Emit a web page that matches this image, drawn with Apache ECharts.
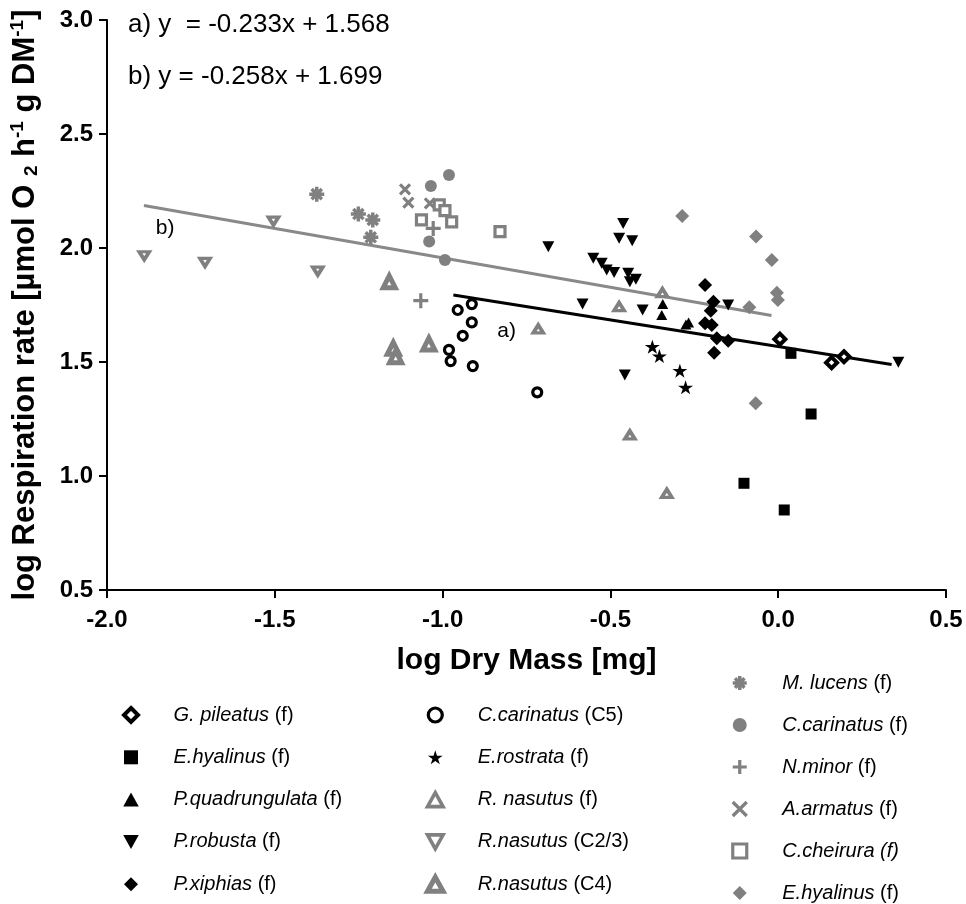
<!DOCTYPE html>
<html>
<head>
<meta charset="utf-8">
<script src="https://cdn.jsdelivr.net/npm/echarts@6/dist/echarts.min.js"></script>
<style>
  html, body { margin: 0; padding: 0; background: #fff; }
  #chart { width: 966px; height: 904px; }
</style>
</head>
<body>
<div id="chart"></div>
<script>
// Axis ticks
const xTickValues = [-2.0, -1.5, -1.0, -0.5, 0.0, 0.5];
const yTickValues = [0.5, 1.0, 1.5, 2.0, 2.5, 3.0];

// Measurements: [log dry mass (mg), log respiration rate]
const gPileatusF      = [[0.005, 1.600], [0.159, 1.497], [0.196, 1.523]];
const eHyalinusF      = [[0.038, 1.538], [0.098, 1.272], [-0.102, 0.968], [0.018, 0.851]];
const pQuadrungulataF = [[-0.344, 1.754], [-0.347, 1.706], [-0.275, 1.665], [-0.267, 1.673]];
const pRobustaF       = [[-0.685, 2.006], [-0.462, 2.108], [-0.474, 2.043], [-0.435, 2.032],
                         [-0.551, 1.955], [-0.526, 1.933], [-0.511, 1.904], [-0.489, 1.892],
                         [-0.447, 1.889], [-0.442, 1.852], [-0.424, 1.863], [-0.583, 1.754],
                         [-0.404, 1.728], [-0.457, 1.443], [-0.149, 1.750], [0.358, 1.499]];
const pXiphiasF       = [[-0.218, 1.838], [-0.193, 1.764], [-0.201, 1.725], [-0.218, 1.670],
                         [-0.198, 1.662], [-0.183, 1.604], [-0.149, 1.593], [-0.191, 1.541]];
const cCarinatusC5    = [[-0.913, 1.754], [-0.955, 1.728], [-0.913, 1.674], [-0.940, 1.615],
                         [-0.981, 1.553], [-0.976, 1.504], [-0.910, 1.482], [-0.718, 1.367]];
const eRostrataF      = [[-0.375, 1.567], [-0.354, 1.526], [-0.293, 1.462], [-0.276, 1.389]];
const rNasutusF       = [[-0.345, 1.804], [-0.474, 1.743], [-0.715, 1.645], [-0.442, 1.180], [-0.332, 0.924]];
const rNasutusC23     = [[-1.889, 1.966], [-1.504, 2.118], [-1.708, 1.937], [-1.372, 1.899]];
const rNasutusC4      = [[-1.159, 1.852], [-1.147, 1.560], [-1.140, 1.523], [-1.041, 1.579]];
const mLucensF        = [[-1.375, 2.236], [-1.251, 2.149], [-1.208, 2.123], [-1.214, 2.047]];
const cCarinatusF     = [[-0.981, 2.320], [-1.035, 2.272], [-1.040, 2.028], [-0.993, 1.947]];
const nMinorF         = [[-1.028, 2.086], [-1.065, 1.769]];
const aArmatusF       = [[-1.112, 2.257], [-1.102, 2.199], [-1.038, 2.196], [-1.063, 2.123]];
const cCheiruraF      = [[-1.063, 2.123], [-1.010, 2.189], [-0.993, 2.164], [-0.973, 2.115], [-0.829, 2.072]];
const eHyalinusGreyF  = [[-0.286, 2.140], [-0.066, 2.050], [-0.019, 1.947], [-0.004, 1.804],
                         [-0.001, 1.772], [-0.086, 1.740], [-0.067, 1.319]];

// Regression fits: a) black, b) grey
const fitTags       = ['a)', 'b)'];
const fitSlopes     = [-0.233, -0.258];
const fitIntercepts = [1.568, 1.699];
const fitRanges     = [[-0.968, 0.338], [-1.890, -0.020]];
const fitTagAt      = [[-0.809, 1.633], [-1.827, 2.088]];

const FONT = "'Liberation Sans', Arial, Helvetica, sans-serif";
const BLACK = '#000000';
const GREY = '#808080';

const SYM = {
  square:  'path://M0,0L10,0L10,10L0,10Z',
  diamond: 'path://M5,0L10,5L5,10L0,5Z',
  triUp:   'path://M5,0L10,9L0,9Z',
  triDown: 'path://M0,0L10,0L5,9Z',
  star:    'path://M50,0L61.2,34.5L97.6,34.5L68.2,55.9L79.4,90.5L50,69.1L20.6,90.5L31.8,55.9L2.4,34.5L38.8,34.5Z',
  aster:   'path://M5,0L5,10M0,5L10,5M1.6,1.6L8.4,8.4M8.4,1.6L1.6,8.4',
  plus:    'path://M5,0L5,10M0,5L10,5',
  cross:   'path://M0,0L10,10M10,0L0,10'
};

// One entry per plotted group: legend text, data and marker look
const groups = [
  { key: 'g1',  name: 'G. pileatus',     stage: '(f)',    data: gPileatusF,      symbol: SYM.diamond, size: [11, 11], fill: '#fff', stroke: BLACK, bw: 4 },
  { key: 'g2',  name: 'E.hyalinus',      stage: '(f)',    data: eHyalinusF,      symbol: SYM.square,  size: [11, 11], fill: BLACK,  stroke: BLACK, bw: 0 },
  { key: 'g3',  name: 'P.quadrungulata', stage: '(f)',    data: pQuadrungulataF, symbol: SYM.triUp,   size: [11, 10], fill: BLACK,  stroke: BLACK, bw: 0 },
  { key: 'g4',  name: 'P.robusta',       stage: '(f)',    data: pRobustaF,       symbol: SYM.triDown, size: [12, 11], fill: BLACK,  stroke: BLACK, bw: 0 },
  { key: 'g5',  name: 'P.xiphias',       stage: '(f)',    data: pXiphiasF,       symbol: SYM.diamond, size: [14, 14], fill: BLACK,  stroke: BLACK, bw: 0 },
  { key: 'g6',  name: 'C.carinatus',     stage: '(C5)',   data: cCarinatusC5,    symbol: 'circle',    size: [9, 9],   fill: '#fff', stroke: BLACK, bw: 3.2 },
  { key: 'g7',  name: 'E.rostrata',      stage: '(f)',    data: eRostrataF,      symbol: SYM.star,    size: [15, 14], fill: BLACK,  stroke: BLACK, bw: 0 },
  { key: 'g8',  name: 'R. nasutus',      stage: '(f)',    data: rNasutusF,       symbol: SYM.triUp,   size: [10, 8],  fill: '#fff', stroke: GREY,  bw: 3.6 },
  { key: 'g9',  name: 'R.nasutus',       stage: '(C2/3)', data: rNasutusC23,     symbol: SYM.triDown, size: [10, 8],  fill: '#fff', stroke: GREY,  bw: 3.6 },
  { key: 'g10', name: 'R.nasutus',       stage: '(C4)',   data: rNasutusC4,      symbol: SYM.triUp,   size: [12, 12], fill: '#fff', stroke: GREY,  bw: 5 },
  { key: 'g11', name: 'M. lucens',       stage: '(f)',    data: mLucensF,        symbol: SYM.aster,   size: [15, 15], fill: GREY,   stroke: GREY,  bw: 3.5 },
  { key: 'g12', name: 'C.carinatus',     stage: '(f)',    data: cCarinatusF,     symbol: 'circle',    size: [12, 12], fill: GREY,   stroke: GREY,  bw: 0 },
  { key: 'g13', name: 'N.minor',         stage: '(f)',    data: nMinorF,         symbol: SYM.plus,    size: [15, 15], fill: GREY,   stroke: GREY,  bw: 3.2 },
  { key: 'g14', name: 'A.armatus',       stage: '(f)',    data: aArmatusF,       symbol: SYM.cross,   size: [10, 10], fill: GREY,   stroke: GREY,  bw: 3.2 },
  { key: 'g15', name: 'C.cheirura',      stage: '(f)',    data: cCheiruraF,      symbol: SYM.square,  size: [10, 10], fill: '#fff', stroke: GREY,  bw: 3.2, allItalic: true },
  { key: 'g16', name: 'E.hyalinus',      stage: '(f)',    data: eHyalinusGreyF,  symbol: SYM.diamond, size: [14, 14], fill: GREY,   stroke: GREY,  bw: 0 }
];

const byKey = {};
groups.forEach(g => { byKey[g.key] = g; });

function legendLabel(key) {
  const g = byKey[key];
  return g.allItalic ? '{i|' + g.name + ' ' + g.stage + '}'
                     : '{i|' + g.name + '}{n| ' + g.stage + '}';
}

const legendRich = {
  i: { fontFamily: FONT, fontSize: 20, fontStyle: 'italic', color: BLACK, lineHeight: 20 },
  n: { fontFamily: FONT, fontSize: 20, color: BLACK, lineHeight: 20 }
};

function legendColumn(keys, left, top, gap) {
  return {
    orient: 'vertical',
    left: left,
    top: top,
    itemWidth: 75,
    itemHeight: 14,
    itemGap: gap,
    symbolKeepAspect: true,
    selectedMode: false,
    padding: 0,
    itemStyle: { borderWidth: 'inherit' },
    data: keys,
    formatter: legendLabel,
    textStyle: { rich: legendRich }
  };
}

const scatterSeries = groups.map(g => ({
  type: 'scatter',
  name: g.key,
  data: g.data,
  symbol: g.symbol,
  symbolSize: g.size,
  z: 3,
  itemStyle: { color: g.fill, borderColor: g.stroke, borderWidth: g.bw, opacity: 1 },
  emphasis: { disabled: true }
}));

const fitColors = [BLACK, '#898989'];
const lineSeries = fitSlopes.map((m, i) => ({
  type: 'line',
  name: 'fit' + i,
  data: fitRanges[i].map(x => [x, m * x + fitIntercepts[i]]),
  showSymbol: false,
  symbol: 'none',
  z: 2,
  lineStyle: { color: fitColors[i], width: 3 },
  emphasis: { disabled: true },
  markPoint: {
    symbol: 'circle',
    symbolSize: 0,
    silent: true,
    label: { show: true, position: 'inside', formatter: fitTags[i], fontFamily: FONT, fontSize: 21, color: BLACK },
    data: [{ coord: fitTagAt[i] }]
  }
}));

const eqText = [
  'a) y  = ' + fitSlopes[0].toFixed(3) + 'x + ' + fitIntercepts[0].toFixed(3),
  'b) y = ' + fitSlopes[1].toFixed(3) + 'x + ' + fitIntercepts[1].toFixed(3)
];

const chart = echarts.init(document.getElementById('chart'), null, { renderer: 'canvas' });

const axisCommon = {
  type: 'value',
  splitLine: { show: false },
  axisLine: { show: true, onZero: false, lineStyle: { color: BLACK, width: 2 } },
  axisTick: { show: true, inside: false, length: 8, lineStyle: { color: BLACK, width: 2 } },
  axisLabel: {
    show: true, color: BLACK, fontFamily: FONT, fontSize: 24, fontWeight: 'bold',
    showMinLabel: true, showMaxLabel: true,
    formatter: v => v.toFixed(1)
  },
  nameLocation: 'middle'
};

chart.setOption({
  animation: false,
  backgroundColor: '#ffffff',
  grid: { left: 107, right: 20, top: 20, bottom: 314, containLabel: false, outerBoundsMode: 'none' },
  xAxis: Object.assign({}, axisCommon, {
    min: xTickValues[0],
    max: xTickValues[xTickValues.length - 1],
    interval: xTickValues[1] - xTickValues[0],
    axisLabel: Object.assign({}, axisCommon.axisLabel, { margin: 18 }),
    name: 'log Dry Mass [mg]',
    nameGap: 56,
    nameTextStyle: { fontFamily: FONT, fontSize: 30, fontWeight: 'bold', color: BLACK }
  }),
  yAxis: Object.assign({}, axisCommon, {
    min: yTickValues[0],
    max: yTickValues[yTickValues.length - 1],
    interval: yTickValues[1] - yTickValues[0],
    axisLabel: Object.assign({}, axisCommon.axisLabel, { margin: 14 }),
    name: '{t|log Respiration rate [µmol O }{sub|2}{t| h}{sup|-1}{t| g DM}{sup|-1}{t|]}',
    nameGap: 64,
    nameTextStyle: {
      rich: {
        t:   { fontFamily: FONT, fontSize: 31, fontWeight: 'bold', color: BLACK },
        sub: { fontFamily: FONT, fontSize: 19, fontWeight: 'bold', color: BLACK, padding: [12, 0, 0, 0] },
        sup: { fontFamily: FONT, fontSize: 19, fontWeight: 'bold', color: BLACK, padding: [0, 0, 16, 0] }
      }
    }
  }),
  legend: [
    legendColumn(['g1', 'g2', 'g3', 'g4', 'g5'], 122, 705, 22.3),
    legendColumn(['g6', 'g7', 'g8', 'g9', 'g10'], 425, 705, 22.3),
    legendColumn(['g11', 'g12', 'g13', 'g14', 'g15', 'g16'], 731, 673, 22)
  ],
  graphic: [
    { type: 'text', x: 128, y: 25, silent: true,
      style: { text: eqText[0], fontFamily: FONT, fontSize: 26, fill: BLACK, verticalAlign: 'middle' } },
    { type: 'text', x: 128, y: 77, silent: true,
      style: { text: eqText[1], fontFamily: FONT, fontSize: 26, fill: BLACK, verticalAlign: 'middle' } }
  ],
  series: lineSeries.concat(scatterSeries)
});
</script>
</body>
</html>
